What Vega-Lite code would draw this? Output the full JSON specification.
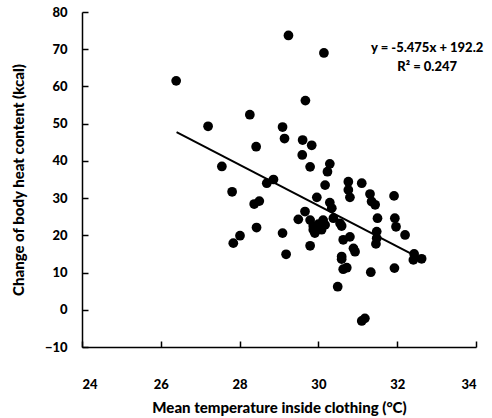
{
  "$schema": "https://vega.github.io/schema/vega-lite/v6.json",
  "autosize": "none",
  "width": 394,
  "height": 335,
  "padding": {"left": 82, "top": 12, "right": 16, "bottom": 71},
  "background": "white",
  "config": {
    "view": {"stroke": null},
    "font": "Lato",
    "axis": {
      "grid": false,
      "domainColor": "black",
      "domainWidth": 1.5,
      "tickColor": "black",
      "tickSize": -6,
      "tickWidth": 1.5,
      "labelColor": "black",
      "labelFont": "Lato",
      "labelFontWeight": 900,
      "labelFontSize": 13,
      "titleColor": "black",
      "titleFont": "Lato",
      "titleFontWeight": 900,
      "titleFontSize": 15
    }
  },
  "datasets": {
    "pts": [
      {"t": 26.39, "h": 61.5}, {"t": 29.24, "h": 73.7}, {"t": 30.14, "h": 69.0},
      {"t": 29.67, "h": 56.2}, {"t": 28.26, "h": 52.4}, {"t": 27.20, "h": 49.3},
      {"t": 29.09, "h": 49.1}, {"t": 29.14, "h": 46.0}, {"t": 29.60, "h": 45.6},
      {"t": 29.83, "h": 44.2}, {"t": 28.42, "h": 43.8}, {"t": 29.59, "h": 41.6},
      {"t": 27.55, "h": 38.5}, {"t": 29.79, "h": 38.4}, {"t": 30.29, "h": 39.2},
      {"t": 30.23, "h": 37.1}, {"t": 28.86, "h": 35.0}, {"t": 28.69, "h": 34.0},
      {"t": 27.81, "h": 31.7}, {"t": 28.50, "h": 29.2}, {"t": 28.37, "h": 28.4},
      {"t": 30.17, "h": 33.5}, {"t": 30.76, "h": 34.4}, {"t": 31.10, "h": 34.0},
      {"t": 30.76, "h": 32.2}, {"t": 30.80, "h": 30.2}, {"t": 31.31, "h": 31.1},
      {"t": 31.35, "h": 29.1}, {"t": 31.44, "h": 28.2}, {"t": 31.92, "h": 30.6},
      {"t": 29.96, "h": 30.2}, {"t": 30.29, "h": 28.8}, {"t": 30.34, "h": 27.3},
      {"t": 29.66, "h": 26.4}, {"t": 29.49, "h": 24.3}, {"t": 29.79, "h": 24.1},
      {"t": 30.12, "h": 24.1}, {"t": 30.38, "h": 24.6}, {"t": 29.87, "h": 22.5},
      {"t": 30.08, "h": 21.5}, {"t": 30.17, "h": 22.8}, {"t": 29.91, "h": 20.6},
      {"t": 30.59, "h": 22.5}, {"t": 31.50, "h": 24.6}, {"t": 31.94, "h": 24.6},
      {"t": 31.97, "h": 22.3}, {"t": 32.20, "h": 20.1}, {"t": 31.48, "h": 21.0},
      {"t": 31.48, "h": 19.2}, {"t": 30.63, "h": 18.8}, {"t": 30.80, "h": 19.6},
      {"t": 30.89, "h": 16.5}, {"t": 29.79, "h": 17.2}, {"t": 30.59, "h": 14.3},
      {"t": 31.46, "h": 17.7}, {"t": 30.93, "h": 15.6}, {"t": 30.59, "h": 13.6},
      {"t": 30.63, "h": 10.9}, {"t": 30.72, "h": 11.3}, {"t": 31.33, "h": 10.1},
      {"t": 31.93, "h": 11.2}, {"t": 32.43, "h": 15.0}, {"t": 32.62, "h": 13.7},
      {"t": 32.41, "h": 13.4}, {"t": 30.49, "h": 6.2}, {"t": 31.10, "h": -3.0},
      {"t": 31.18, "h": -2.3}, {"t": 28.43, "h": 22.1}, {"t": 29.09, "h": 20.6},
      {"t": 28.01, "h": 19.9}, {"t": 27.84, "h": 17.9}, {"t": 29.18, "h": 14.9},
      {"t": 30.55, "h": 23.2}, {"t": 29.87, "h": 21.5}, {"t": 30.00, "h": 23.0}
    ],
    "fit": [
      {"t": 26.4, "h": 47.7},
      {"t": 32.4, "h": 14.8}
    ],
    "notes": [
      {"t": 32.76, "h": 70.4, "label": "y = -5.475x + 192.2"},
      {"t": 32.76, "h": 65.2, "label": "R² = 0.247"}
    ]
  },
  "layer": [
    {
      "data": {"name": "pts"},
      "mark": {"type": "circle", "color": "black", "opacity": 1, "size": 95},
      "encoding": {
        "x": {
          "field": "t", "type": "quantitative",
          "scale": {"domain": [24, 34], "nice": false, "zero": false},
          "axis": {
            "title": "Mean  temperature inside clothing (°C)",
            "values": [24, 26, 28, 30, 32, 34],
            "tickCount": 20,
            "format": "d",
            "labelOverlap": false,
            "labelPadding": 37,
            "titleY": 60,
            "titleBaseline": "middle"
          }
        },
        "y": {
          "field": "h", "type": "quantitative",
          "scale": {"domain": [-10, 80], "nice": false, "zero": false},
          "axis": {
            "title": "Change of body heat content (kcal)",
            "values": [-10, 0, 10, 20, 30, 40, 50, 60, 70, 80],
            "tickCount": 20,
            "format": "d",
            "labelOverlap": false,
            "labelPadding": 21,
            "titleX": -64,
            "titleBaseline": "middle"
          }
        }
      }
    },
    {
      "data": {"name": "fit"},
      "mark": {"type": "line", "color": "black", "strokeWidth": 2},
      "encoding": {
        "x": {"field": "t", "type": "quantitative"},
        "y": {"field": "h", "type": "quantitative"}
      }
    },
    {
      "data": {"name": "notes"},
      "mark": {"type": "text", "font": "Lato", "fontWeight": 900, "fontSize": 13, "color": "black", "align": "center", "baseline": "middle"},
      "encoding": {
        "x": {"field": "t", "type": "quantitative"},
        "y": {"field": "h", "type": "quantitative"},
        "text": {"field": "label"}
      }
    }
  ]
}
